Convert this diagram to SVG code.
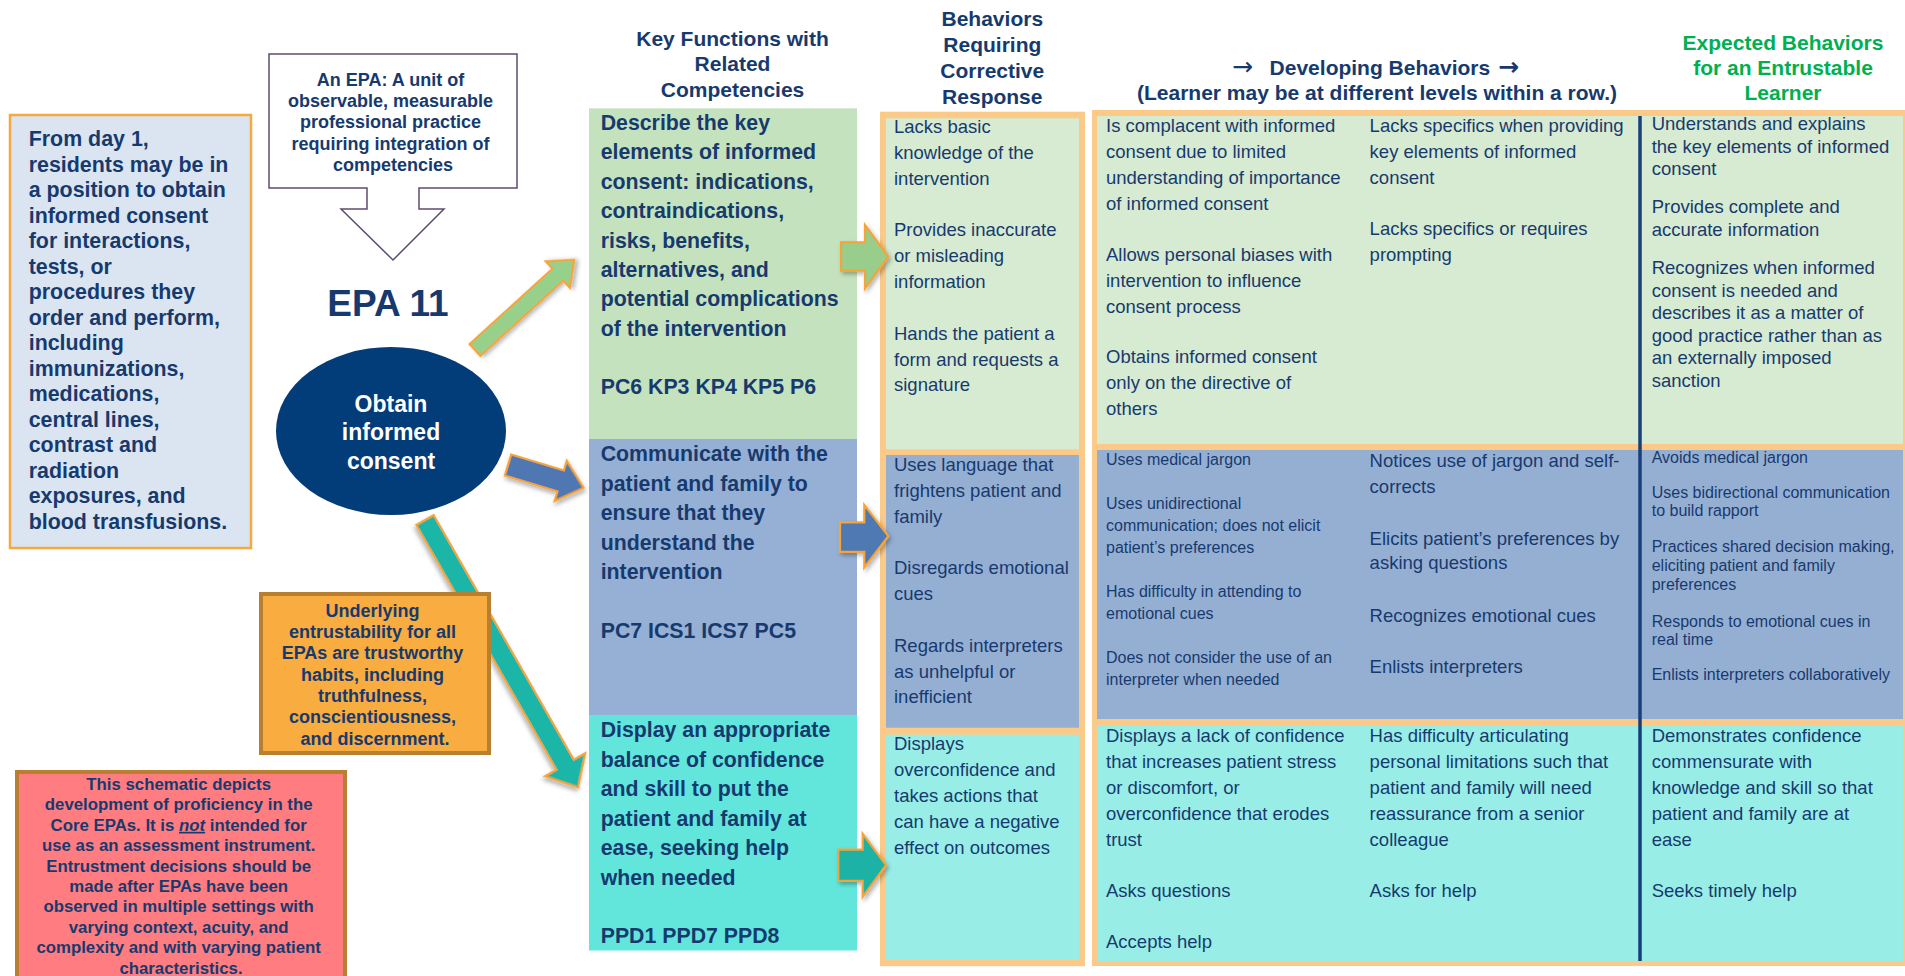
<svg xmlns="http://www.w3.org/2000/svg" width="1905" height="976" viewBox="0 0 1905 976">
<defs>
<style>
text { font-family: "Liberation Sans", Arial, sans-serif; fill: #173a6e; }
.b { font-weight: bold; }
.hdr { font-size: 21px; font-weight: bold; text-anchor: middle; }
.kf { font-size: 21.3px; font-weight: bold; }
.bt { font-size: 18.5px; }
.st { font-size: 16px; }
.mid { text-anchor: middle; }
.ar { font-family: "DejaVu Sans", sans-serif; }
.arr { stroke: #f6a338; stroke-width: 2.2; stroke-linejoin: miter; filter: url(#sh); }
.frame { fill: #fcca88; }
.g1 { fill: #c4e2bd; }
.b1 { fill: #95b0d4; }
.t1 { fill: #62e6dc; }
.g2 { fill: #d6ebd1; }
.b2 { fill: #95afd3; }
.t2 { fill: #98eee7; }
</style>
<filter id="sh" x="-30%" y="-30%" width="160%" height="160%">
<feDropShadow dx="2" dy="2.5" stdDeviation="2" flood-color="#000" flood-opacity="0.3"/>
</filter>
</defs>
<rect x="0" y="0" width="1905" height="976" fill="#ffffff"/>

<g id="headers">
<text class="hdr" x="732.5"><tspan x="732.5" y="45.7">Key Functions with</tspan><tspan x="732.5" y="71">Related</tspan><tspan x="732.5" y="96.7">Competencies</tspan></text>
<text class="hdr" x="992.3"><tspan x="992.3" y="26">Behaviors</tspan><tspan x="992.3" y="52">Requiring</tspan><tspan x="992.3" y="78">Corrective</tspan><tspan x="992.3" y="103.5">Response</tspan></text>
<text class="ar" font-size="25" x="1232" y="75">→</text>
<text class="b" font-size="21" x="1269.6" y="75">Developing Behaviors</text>
<text class="ar b" font-size="25" x="1498" y="75">→</text>
<text class="hdr" x="1377" y="100">(Learner may be at different levels within a row.)</text>
<text class="hdr" x="1783" style="fill:#00b050"><tspan x="1783" y="50">Expected Behaviors</tspan><tspan x="1783" y="74.5">for an Entrustable</tspan><tspan x="1783" y="100">Learner</tspan></text>
</g>

<g id="intro-box">
<rect x="10" y="115" width="241" height="433" fill="#dbe5f1" stroke="#f7a940" stroke-width="2.5"/>
<text class="b" font-size="21.4">
<tspan x="28.7" y="146.4">From day 1,</tspan>
<tspan x="28.7" dy="25.5">residents may be in</tspan>
<tspan x="28.7" dy="25.5">a position to obtain</tspan>
<tspan x="28.7" dy="25.5">informed consent</tspan>
<tspan x="28.7" dy="25.5">for interactions,</tspan>
<tspan x="28.7" dy="25.5">tests, or</tspan>
<tspan x="28.7" dy="25.5">procedures they</tspan>
<tspan x="28.7" dy="25.5">order and perform,</tspan>
<tspan x="28.7" dy="25.5">including</tspan>
<tspan x="28.7" dy="25.5">immunizations,</tspan>
<tspan x="28.7" dy="25.5">medications,</tspan>
<tspan x="28.7" dy="25.5">central lines,</tspan>
<tspan x="28.7" dy="25.5">contrast and</tspan>
<tspan x="28.7" dy="25.5">radiation</tspan>
<tspan x="28.7" dy="25.5">exposures, and</tspan>
<tspan x="28.7" dy="25.5">blood transfusions.</tspan>
</text>
</g>

<g id="epa-definition">
<path d="M269,54 H517 V188 H419 V209 H444 L393,260 L341,209 H367 V188 H269 Z" fill="#ffffff" stroke="#5d4d6e" stroke-width="1.5"/>
<text class="b mid" font-size="18">
<tspan x="393" y="85.5">An EPA: A unit of</tspan>
<tspan x="393" dy="21.4">observable, measurable</tspan>
<tspan x="393" dy="21.4">professional practice</tspan>
<tspan x="393" dy="21.4">requiring  integration of</tspan>
<tspan x="393" dy="21.4">competencies</tspan>
</text>
</g>

<g id="epa-title">
<text class="b mid" font-size="37" x="388" y="316">EPA 11</text>
</g>

<g id="epa-ellipse">
<ellipse cx="391" cy="431" rx="115" ry="84" fill="#023c79"/>
<text class="b mid" font-size="23" style="fill:#ffffff"><tspan x="391" y="411.5">Obtain</tspan><tspan x="391" y="440">informed</tspan><tspan x="391" y="468.5">consent</tspan></text>
</g>

<g id="key-functions">
<rect class="g1" x="589" y="108.3" width="268" height="331"/>
<rect class="b1" x="589" y="439" width="268" height="276"/>
<rect class="t1" x="589" y="715" width="268" height="235.5"/>
<text class="kf">
<tspan x="600.7" y="130">Describe the key</tspan>
<tspan x="600.7" dy="29.4">elements of informed</tspan>
<tspan x="600.7" dy="29.4">consent: indications,</tspan>
<tspan x="600.7" dy="29.4">contraindications,</tspan>
<tspan x="600.7" dy="29.4">risks, benefits,</tspan>
<tspan x="600.7" dy="29.4">alternatives, and</tspan>
<tspan x="600.7" dy="29.4">potential complications</tspan>
<tspan x="600.7" dy="29.4">of the intervention</tspan>
<tspan x="600.7" y="394.3">PC6 KP3 KP4 KP5 P6</tspan>
</text>
<text class="kf">
<tspan x="600.7" y="461.3">Communicate with the</tspan>
<tspan x="600.7" dy="29.5">patient and family to</tspan>
<tspan x="600.7" dy="29.5">ensure that they</tspan>
<tspan x="600.7" dy="29.5">understand the</tspan>
<tspan x="600.7" dy="29.5">intervention</tspan>
<tspan x="600.7" y="637.9">PC7 ICS1 ICS7 PC5</tspan>
</text>
<text class="kf">
<tspan x="600.7" y="737.1">Display an appropriate</tspan>
<tspan x="600.7" dy="29.5">balance of confidence</tspan>
<tspan x="600.7" dy="29.5">and skill to put the</tspan>
<tspan x="600.7" dy="29.5">patient and family at</tspan>
<tspan x="600.7" dy="29.5">ease, seeking help</tspan>
<tspan x="600.7" dy="29.5">when needed</tspan>
<tspan x="600.7" y="942.5">PPD1 PPD7 PPD8</tspan>
</text>
</g>

<g id="corrective-behaviors">
<rect class="frame" x="880" y="111.7" width="205" height="854.5"/>
<rect class="g2" x="886" y="118.3" width="193" height="331"/>
<rect class="b2" x="886" y="455" width="193" height="272.7"/>
<rect class="t2" x="886" y="734.7" width="193" height="225.3"/>
<text class="bt">
<tspan x="894" y="133.3">Lacks basic</tspan>
<tspan x="894" dy="26">knowledge of the</tspan>
<tspan x="894" dy="26">intervention</tspan>
<tspan x="894" y="236">Provides inaccurate</tspan>
<tspan x="894" dy="26">or misleading</tspan>
<tspan x="894" dy="26">information</tspan>
<tspan x="894" y="340">Hands the patient a</tspan>
<tspan x="894" dy="25.5">form and requests a</tspan>
<tspan x="894" dy="25.5">signature</tspan>
</text>
<text class="bt">
<tspan x="894" y="471.1">Uses language that</tspan>
<tspan x="894" dy="25.7">frightens patient and</tspan>
<tspan x="894" dy="25.7">family</tspan>
<tspan x="894" y="573.8">Disregards emotional</tspan>
<tspan x="894" dy="25.8">cues</tspan>
<tspan x="894" y="651.8">Regards interpreters</tspan>
<tspan x="894" dy="25.8">as unhelpful or</tspan>
<tspan x="894" dy="25.8">inefficient</tspan>
</text>
<text class="bt">
<tspan x="894" y="750.3">Displays</tspan>
<tspan x="894" dy="25.8">overconfidence and</tspan>
<tspan x="894" dy="25.8">takes actions that</tspan>
<tspan x="894" dy="25.8">can have a negative</tspan>
<tspan x="894" dy="25.8">effect on outcomes</tspan>
</text>
</g>

<g id="developing-and-expected">
<rect class="frame" x="1092" y="110" width="813" height="856"/>
<rect class="g2" x="1097" y="116" width="806" height="328"/>
<rect class="b2" x="1097" y="450" width="806" height="269"/>
<rect class="t2" x="1097" y="725.3" width="806" height="235.7"/>
<line x1="1640" y1="116" x2="1640" y2="961" stroke="#173f7a" stroke-width="3.5"/>
<text class="bt">
<tspan x="1106" y="131.7">Is complacent with informed</tspan>
<tspan x="1106" dy="26">consent due to limited</tspan>
<tspan x="1106" dy="26">understanding of importance</tspan>
<tspan x="1106" dy="26">of informed consent</tspan>
<tspan x="1106" y="260.7">Allows personal biases with</tspan>
<tspan x="1106" dy="26">intervention to influence</tspan>
<tspan x="1106" dy="26">consent process</tspan>
<tspan x="1106" y="363.3">Obtains informed consent</tspan>
<tspan x="1106" dy="26">only on the directive of</tspan>
<tspan x="1106" dy="26">others</tspan>
</text>
<text class="bt">
<tspan x="1369.6" y="131.7">Lacks specifics when providing</tspan>
<tspan x="1369.6" dy="26">key elements of informed</tspan>
<tspan x="1369.6" dy="26">consent</tspan>
<tspan x="1369.6" y="235">Lacks specifics or requires</tspan>
<tspan x="1369.6" dy="26">prompting</tspan>
</text>
<text class="bt">
<tspan x="1651.7" y="130">Understands and explains</tspan>
<tspan x="1651.7" dy="22.5">the key elements of informed</tspan>
<tspan x="1651.7" dy="22.5">consent</tspan>
<tspan x="1651.7" y="213.3">Provides complete and</tspan>
<tspan x="1651.7" dy="22.5">accurate information</tspan>
<tspan x="1651.7" y="274">Recognizes when informed</tspan>
<tspan x="1651.7" dy="22.5">consent is needed and</tspan>
<tspan x="1651.7" dy="22.5">describes it as a matter of</tspan>
<tspan x="1651.7" dy="22.5">good practice rather than as</tspan>
<tspan x="1651.7" dy="22.5">an externally imposed</tspan>
<tspan x="1651.7" dy="22.5">sanction</tspan>
</text>
<text class="st">
<tspan x="1106" y="464.8">Uses medical jargon</tspan>
<tspan x="1106" y="509.4">Uses unidirectional</tspan>
<tspan x="1106" dy="21.6">communication; does not elicit</tspan>
<tspan x="1106" dy="21.6">patient’s preferences</tspan>
<tspan x="1106" y="597.1">Has difficulty in attending to</tspan>
<tspan x="1106" dy="21.6">emotional cues</tspan>
<tspan x="1106" y="662.6">Does not consider the use of an</tspan>
<tspan x="1106" dy="22">interpreter when needed</tspan>
</text>
<text class="bt">
<tspan x="1369.6" y="466.6">Notices use of jargon and self-</tspan>
<tspan x="1369.6" dy="26">corrects</tspan>
<tspan x="1369.6" y="544.9">Elicits patient’s preferences by</tspan>
<tspan x="1369.6" dy="24.5">asking questions</tspan>
<tspan x="1369.6" y="621.5">Recognizes emotional cues</tspan>
<tspan x="1369.6" y="673">Enlists interpreters</tspan>
</text>
<text class="st">
<tspan x="1651.7" y="463">Avoids medical jargon</tspan>
<tspan x="1651.7" y="497.9">Uses bidirectional communication</tspan>
<tspan x="1651.7" dy="18.5">to build rapport</tspan>
<tspan x="1651.7" y="551.9">Practices shared decision making,</tspan>
<tspan x="1651.7" dy="18.8">eliciting patient and family</tspan>
<tspan x="1651.7" dy="19.5">preferences</tspan>
<tspan x="1651.7" y="626.7">Responds to emotional cues in</tspan>
<tspan x="1651.7" dy="18.5">real time</tspan>
<tspan x="1651.7" y="680">Enlists interpreters collaboratively</tspan>
</text>
<text class="bt">
<tspan x="1106" y="741.6">Displays a lack of confidence</tspan>
<tspan x="1106" dy="26">that increases patient stress</tspan>
<tspan x="1106" dy="26">or discomfort, or</tspan>
<tspan x="1106" dy="26">overconfidence that erodes</tspan>
<tspan x="1106" dy="26">trust</tspan>
<tspan x="1106" y="896.6">Asks questions</tspan>
<tspan x="1106" y="948.1">Accepts help</tspan>
</text>
<text class="bt">
<tspan x="1369.6" y="741.6">Has difficulty articulating</tspan>
<tspan x="1369.6" dy="26">personal limitations such that</tspan>
<tspan x="1369.6" dy="26">patient and family will need</tspan>
<tspan x="1369.6" dy="26">reassurance from a senior</tspan>
<tspan x="1369.6" dy="26">colleague</tspan>
<tspan x="1369.6" y="896.6">Asks for help</tspan>
</text>
<text class="bt">
<tspan x="1651.7" y="741.6">Demonstrates confidence</tspan>
<tspan x="1651.7" dy="26">commensurate with</tspan>
<tspan x="1651.7" dy="26">knowledge and skill so that</tspan>
<tspan x="1651.7" dy="26">patient and family are at</tspan>
<tspan x="1651.7" dy="26">ease</tspan>
<tspan x="1651.7" y="896.6">Seeks timely help</tspan>
</text>
</g>

<g id="connectors">
<g transform="translate(475,350) rotate(-42.3)"><polygon class="arr" fill="#97d08b" points="0,-8 112,-8 112,-18 134,0 112,18 112,8 0,8"/></g>
<g transform="translate(508,465) rotate(16.8)"><polygon class="arr" fill="#4f77b1" points="0,-11 55,-11 55,-21 79,0 55,21 55,11 0,11"/></g>
<g transform="translate(425,520) rotate(60.2)"><polygon class="arr" fill="#1db6a9" points="0,-10 282,-10 282,-23 308,0 282,23 282,10 0,10"/></g>
<polygon class="arr" fill="#98cd8c" points="841,242.3 865,242.3 865,225 888.3,256.5 865,288.3 865,270.7 841,270.7"/>
<polygon class="arr" fill="#4f79b2" points="840,522.3 864.3,522.3 864.3,504.9 888.3,536.2 864.3,567.5 864.3,551.9 840,551.9"/>
<polygon class="arr" fill="#1ab3a6" points="838.3,849.6 862.7,849.6 862.7,833.9 886,865.2 862.7,896.6 862.7,880.9 838.3,880.9"/>
</g>

<g id="trust-box">
<rect x="261" y="594" width="228" height="159" fill="#f9ac3f" stroke="#b97f30" stroke-width="4"/>
<text class="b mid" font-size="18">
<tspan x="375" y="616.7">Underlying</tspan>
<tspan x="375" dy="21.3">entrustability for all</tspan>
<tspan x="375" dy="21.3">EPAs are trustworthy</tspan>
<tspan x="375" dy="21.3">habits, including</tspan>
<tspan x="375" dy="21.3">truthfulness,</tspan>
<tspan x="375" dy="21.3">conscientiousness,</tspan>
<tspan x="375" dy="21.3">and discernment.</tspan>
</text>
</g>

<g id="disclaimer-box">
<rect x="17" y="772" width="328" height="210" fill="#ff7c80" stroke="#b97f30" stroke-width="4"/>
<text class="b mid" font-size="16.8">
<tspan x="181" y="790">This schematic depicts</tspan>
<tspan x="181" dy="20.4">development of proficiency in the</tspan>
<tspan x="181" dy="20.4">Core EPAs. It is <tspan font-style="italic" text-decoration="underline">not</tspan> intended for</tspan>
<tspan x="181" dy="20.4">use as an assessment instrument.</tspan>
<tspan x="181" dy="20.4">Entrustment decisions should be</tspan>
<tspan x="181" dy="20.4">made after EPAs have been</tspan>
<tspan x="181" dy="20.4">observed in multiple settings with</tspan>
<tspan x="181" dy="20.4">varying context, acuity, and</tspan>
<tspan x="181" dy="20.4">complexity and with varying patient</tspan>
<tspan x="181" dy="20.4">characteristics.</tspan>
</text>
</g>
</svg>
